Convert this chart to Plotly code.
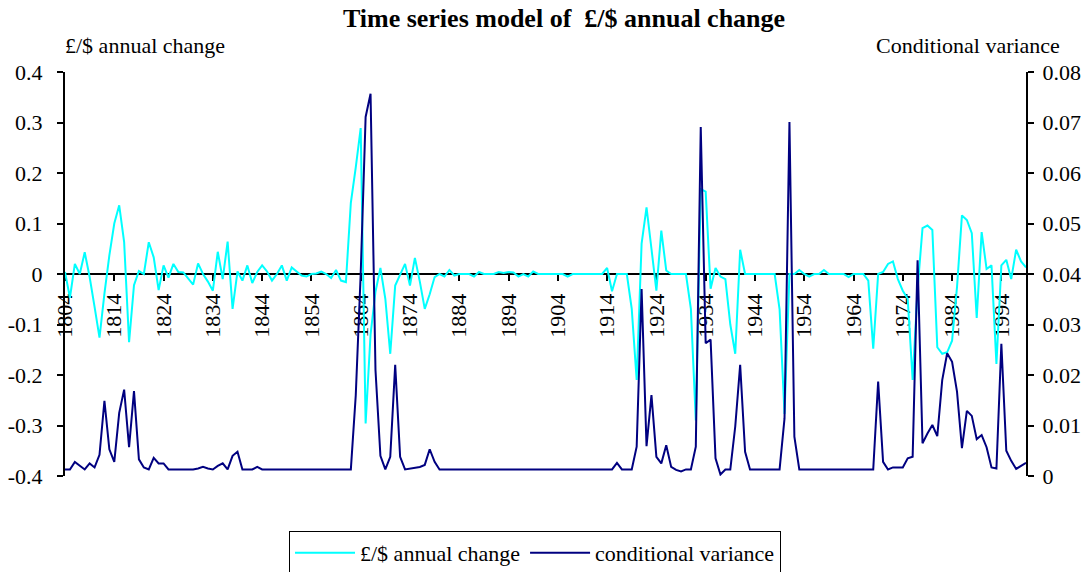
import plotly.graph_objects as go

# ---------------- data ----------------
years = list(range(1804, 2000))

annual_change = [
    0.004, -0.047, 0.020, 0.000, 0.043, -0.006, -0.065, -0.126, -0.039, 0.037,   # 1804-1813
    0.100, 0.136, 0.063, -0.135, -0.022, 0.006, 0.000, 0.063, 0.033, -0.032,     # 1814-1823
    0.017, -0.007, 0.020, 0.004, 0.003, -0.010, -0.021, 0.021, 0.000, -0.015,    # 1824-1833
    -0.033, 0.044, -0.010, 0.064, -0.069, 0.005, -0.013, 0.017, -0.018, 0.004,   # 1834-1843
    0.017, 0.005, -0.013, 0.000, 0.017, -0.013, 0.013, 0.005, -0.003, -0.005,    # 1844-1853
    0.000, 0.001, 0.005, 0.000, -0.008, 0.008, -0.013, -0.016, 0.141, 0.211,     # 1854-1863
    0.289, -0.296, -0.120, -0.035, 0.012, -0.049, -0.158, -0.023, 0.000, 0.020,  # 1864-1873
    -0.023, 0.032, -0.015, -0.069, -0.040, -0.006, 0.000, -0.005, 0.008, -0.003, # 1874-1883
    0.000, 0.000, 0.000, -0.005, 0.004, 0.000, 0.000, 0.000, 0.004, 0.002,       # 1884-1893
    0.004, 0.003, -0.005, 0.000, -0.005, 0.005, 0.000, 0.000, 0.000, 0.000,      # 1894-1903
    0.000, 0.000, -0.005, 0.000, 0.000, 0.000, 0.000, 0.000, 0.000, 0.000,       # 1904-1913
    0.012, -0.034, 0.000, 0.000, 0.000, -0.069, -0.210, 0.060, 0.132, 0.050,     # 1914-1923
    -0.033, 0.086, 0.007, 0.000, 0.000, 0.000, 0.000, -0.069, -0.290, 0.168,     # 1924-1933
    0.163, -0.029, 0.012, -0.005, -0.010, -0.100, -0.158, 0.048, 0.000, 0.000,   # 1934-1943
    0.000, 0.000, 0.000, 0.000, 0.000, -0.070, -0.277, 0.000, 0.000, 0.008,      # 1944-1953
    0.000, -0.005, 0.000, 0.000, 0.008, 0.000, 0.000, 0.000, 0.000, -0.006,      # 1954-1963
    0.000, 0.000, 0.000, -0.013, -0.148, 0.000, 0.004, 0.020, 0.025, -0.010,     # 1964-1973
    -0.033, -0.049, -0.210, -0.030, 0.091, 0.096, 0.087, -0.145, -0.158, -0.155, # 1974-1983
    -0.132, -0.026, 0.116, 0.107, 0.081, -0.087, 0.083, 0.010, 0.017, -0.178,    # 1984-1993
    0.017, 0.028, -0.010, 0.048, 0.025, 0.013,                                   # 1994-1999
]

conditional_variance = [
    0.0013, 0.0013, 0.0028, 0.0020, 0.0013, 0.0025, 0.0017, 0.0042, 0.0149, 0.0053,  # 1804-1813
    0.0028, 0.0125, 0.0171, 0.0057, 0.0168, 0.0033, 0.0017, 0.0013, 0.0036, 0.0025,  # 1814-1823
    0.0025, 0.0013, 0.0013, 0.0013, 0.0013, 0.0013, 0.0013, 0.0015, 0.0018, 0.0015,  # 1824-1833
    0.0013, 0.0020, 0.0025, 0.0013, 0.0040, 0.0048, 0.0013, 0.0013, 0.0013, 0.0018,  # 1834-1843
    0.0013, 0.0013, 0.0013, 0.0013, 0.0013, 0.0013, 0.0013, 0.0013, 0.0013, 0.0013,  # 1844-1853
    0.0013, 0.0013, 0.0013, 0.0013, 0.0013, 0.0013, 0.0013, 0.0013, 0.0013, 0.0160,  # 1854-1863
    0.0400, 0.0711, 0.0757, 0.0210, 0.0040, 0.0013, 0.0038, 0.0220, 0.0038, 0.0013,  # 1864-1873
    0.0015, 0.0017, 0.0018, 0.0022, 0.0053, 0.0028, 0.0013, 0.0013, 0.0013, 0.0013,  # 1874-1883
    0.0013, 0.0013, 0.0013, 0.0013, 0.0013, 0.0013, 0.0013, 0.0013, 0.0013, 0.0013,  # 1884-1893
    0.0013, 0.0013, 0.0013, 0.0013, 0.0013, 0.0013, 0.0013, 0.0013, 0.0013, 0.0013,  # 1894-1903
    0.0013, 0.0013, 0.0013, 0.0013, 0.0013, 0.0013, 0.0013, 0.0013, 0.0013, 0.0013,  # 1904-1913
    0.0013, 0.0013, 0.0026, 0.0013, 0.0013, 0.0013, 0.0058, 0.0370, 0.0059, 0.0160,  # 1914-1923
    0.0038, 0.0025, 0.0061, 0.0018, 0.0012, 0.0009, 0.0013, 0.0013, 0.0058, 0.0691,  # 1924-1933
    0.0263, 0.0270, 0.0035, 0.0003, 0.0013, 0.0013, 0.0098, 0.0220, 0.0048, 0.0013,  # 1934-1943
    0.0013, 0.0013, 0.0013, 0.0013, 0.0013, 0.0013, 0.0114, 0.0701, 0.0078, 0.0013,  # 1944-1953
    0.0013, 0.0013, 0.0013, 0.0013, 0.0013, 0.0013, 0.0013, 0.0013, 0.0013, 0.0013,  # 1954-1963
    0.0013, 0.0013, 0.0013, 0.0013, 0.0013, 0.0187, 0.0028, 0.0013, 0.0017, 0.0017,  # 1964-1973
    0.0017, 0.0035, 0.0038, 0.0427, 0.0065, 0.0084, 0.0101, 0.0079, 0.0190, 0.0243,  # 1974-1983
    0.0226, 0.0167, 0.0055, 0.0129, 0.0119, 0.0073, 0.0081, 0.0057, 0.0017, 0.0015,  # 1984-1993
    0.0262, 0.0050, 0.0030, 0.0014, 0.0020, 0.0026,                                  # 1994-1999
]

x_tick_years = [1804, 1814, 1824, 1834, 1844, 1854, 1864, 1874, 1884, 1894,
                1904, 1914, 1924, 1934, 1944, 1954, 1964, 1974, 1984, 1994]
x_tick_labels = [str(v) for v in x_tick_years]

left_tick_values = [-0.4, -0.3, -0.2, -0.1, 0.0, 0.1, 0.2, 0.3, 0.4]
left_tick_labels = ["-0.4", "-0.3", "-0.2", "-0.1", "0", "0.1", "0.2", "0.3", "0.4"]

right_tick_values = [0.0, 0.01, 0.02, 0.03, 0.04, 0.05, 0.06, 0.07, 0.08]
right_tick_labels = ["0", "0.01", "0.02", "0.03", "0.04", "0.05", "0.06", "0.07", "0.08"]

assert len(annual_change) == len(years) == len(conditional_variance)

# ---------------- figure ----------------
FONT = "Liberation Serif, Times New Roman, serif"
W, H = 1090, 572
L, R, T, B = 65, 64, 72, 96

fig = go.Figure()
fig.add_trace(go.Scatter(
    x=years, y=annual_change, mode="lines", name="£/$ annual change",
    line=dict(color="#00FFFF", width=2), yaxis="y"))
fig.add_trace(go.Scatter(
    x=years, y=conditional_variance, mode="lines", name="conditional variance",
    line=dict(color="#000080", width=2), yaxis="y2"))

tick_common = dict(showgrid=False, zeroline=False, ticklen=6, tickwidth=1.5,
                   tickcolor="black", tickfont=dict(family=FONT, size=22, color="black"))

fig.update_layout(
    width=W, height=H,
    margin=dict(l=L, r=R, t=T, b=B, pad=0, autoexpand=False),
    paper_bgcolor="white", plot_bgcolor="white",
    font=dict(family=FONT, size=22, color="black"),
    title=dict(text="<b>Time series model of &nbsp;£/$ annual change</b>",
               font=dict(family=FONT, size=26, color="black"),
               x=564 / W, xref="container", xanchor="center",
               y=1 - 18 / H, yref="container", yanchor="middle"),
    xaxis=dict(range=[years[0], years[-1]], tickmode="array",
               tickvals=x_tick_years, ticktext=x_tick_labels, tickangle=-90,
               anchor="free", position=0.5, side="bottom",
               showline=True, linecolor="black", linewidth=2,
               ticks="outside", ticklabelstandoff=4, layer="below traces",
               **tick_common),
    xaxis2=dict(range=[years[0], years[-1]], tickmode="array",
                tickvals=x_tick_years, overlaying="x", anchor="free", position=0.5,
                side="bottom", showline=False, ticks="inside", showticklabels=False,
                layer="below traces", **tick_common),
    yaxis=dict(range=[-0.4, 0.4], tickmode="array", tickvals=left_tick_values,
               ticktext=left_tick_labels, anchor="x", side="left",
               showline=True, linecolor="black", linewidth=2,
               ticks="outside", ticklabelstandoff=10, layer="below traces",
               **tick_common),
    yaxis3=dict(range=[-0.4, 0.4], tickmode="array", tickvals=left_tick_values,
                overlaying="y", anchor="x", side="left", showline=False,
                ticks="inside", showticklabels=False, **tick_common),
    yaxis2=dict(range=[0, 0.08], tickmode="array", tickvals=right_tick_values,
                ticktext=right_tick_labels, overlaying="y", anchor="x", side="right",
                showline=True, linecolor="black", linewidth=2,
                ticks="outside", ticklabelstandoff=4, layer="below traces",
                **tick_common),
    yaxis4=dict(range=[0, 0.08], tickmode="array", tickvals=right_tick_values,
                overlaying="y", anchor="x", side="right", showline=False,
                ticks="inside", showticklabels=False, **tick_common),
    legend=dict(orientation="h", x=535 / W, xref="container", xanchor="center",
                y=1 - 531 / H, yref="container", yanchor="top",
                bordercolor="black", borderwidth=1, bgcolor="white",
                font=dict(family=FONT, size=22, color="black"),
                itemwidth=60, tracegroupgap=0),
    showlegend=True,
    annotations=[
        dict(text="£/$ annual change", xref="paper", yref="paper",
             x=(63 - L) / (W - L - R), xanchor="left",
             y=1 + (T - 46) / (H - T - B), yanchor="middle", showarrow=False,
             font=dict(family=FONT, size=22, color="black")),
        dict(text="Conditional variance", xref="paper", yref="paper",
             x=(1062 - L) / (W - L - R), xanchor="right",
             y=1 + (T - 46) / (H - T - B), yanchor="middle", showarrow=False,
             font=dict(family=FONT, size=22, color="black")),
    ],
)

fig.write_html("out.html")
